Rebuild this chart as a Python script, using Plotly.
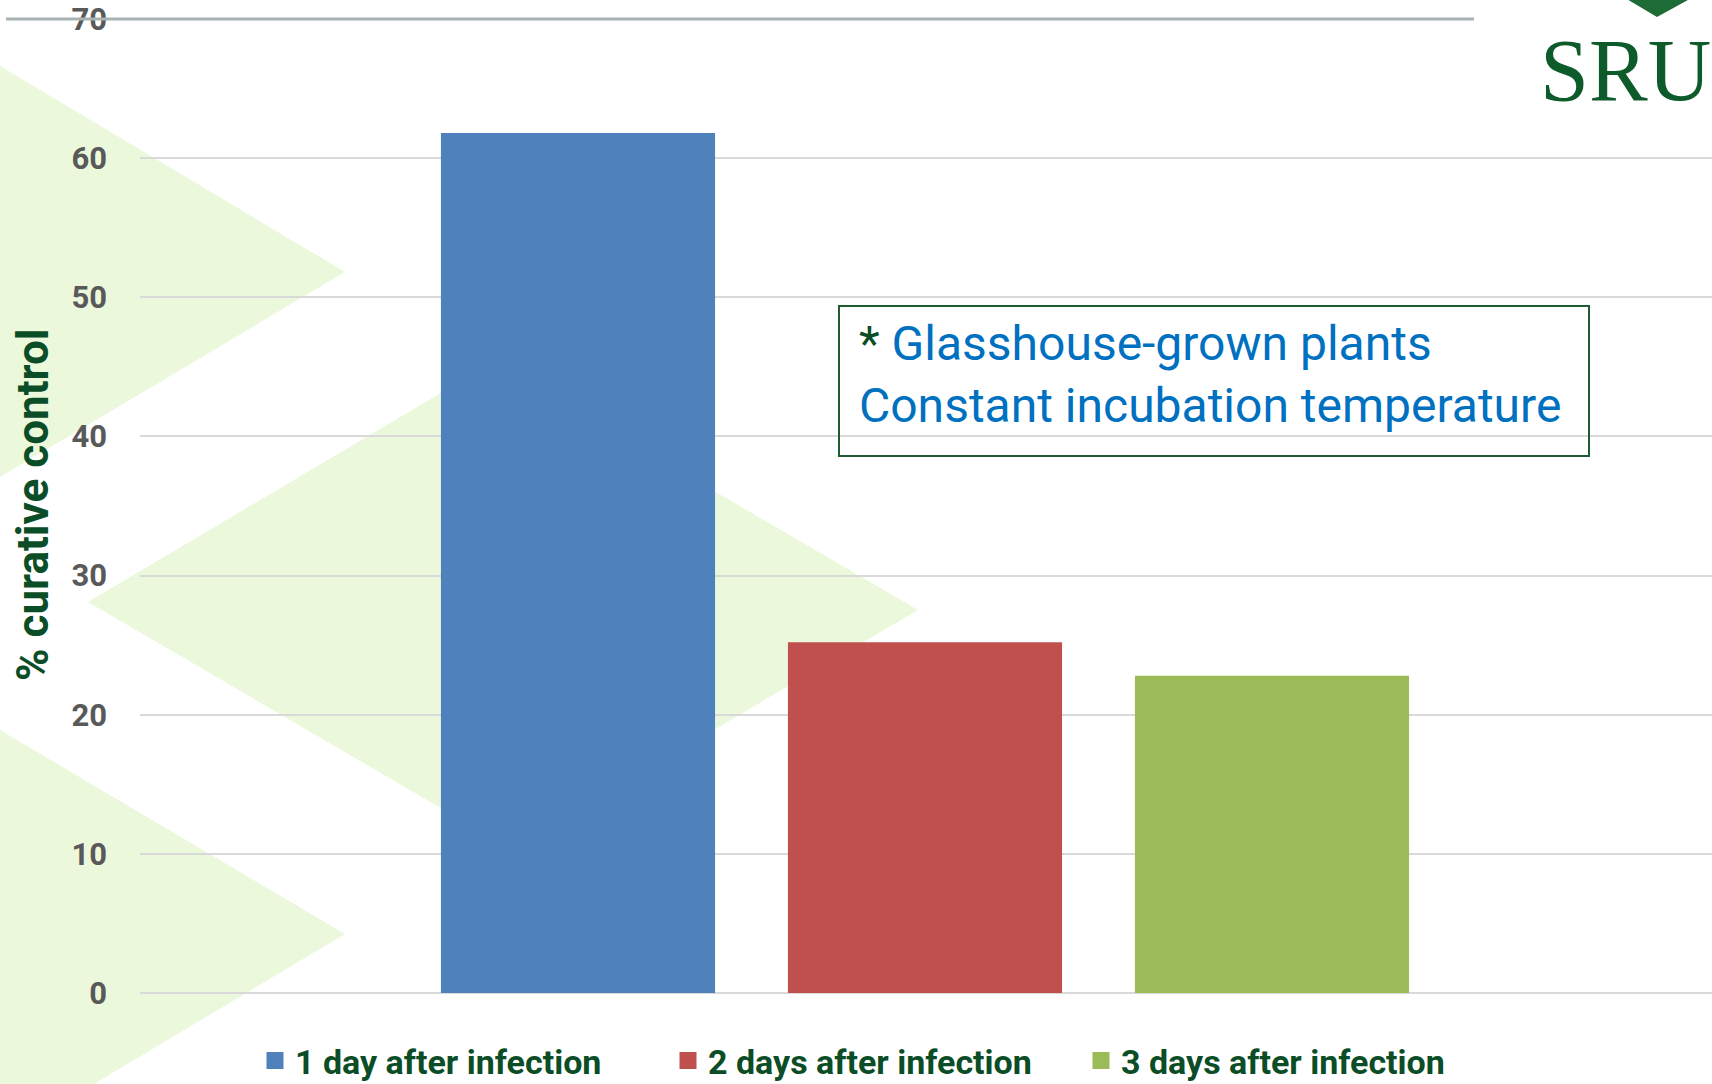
import plotly.graph_objects as go

# ============================ DATA ===============================
series_names = ['1 day after infection', '2 days after infection', '3 days after infection']
curative_control = [61.8, 25.2, 22.8]
bar_colors = ['#4F81BD', '#C0504D', '#9BBB59']
y_ticks = [0, 10, 20, 30, 40, 50, 60, 70]
y_title = '% curative control'
note_star = '*'
note_lines = ['Glasshouse-grown plants', 'Constant incubation temperature']
logo_text = 'SRU'

# ============================ PAGE GEOMETRY ===============================
W, H = 1712, 1084
ML, MR, MT, MB = 140, 0, 19, 91
PW, PH = W - ML - MR, H - MT - MB

DARK_GREEN = '#0B4D26'
PALE_GREEN = '#EBF8DC'


def px(x):
    # page pixel -> paper x
    return (x - ML) / PW


def py(y):
    # page pixel (from top) -> paper y
    return (H - MB - y) / PH


def poly(points):
    return 'M' + ' L'.join('%.5f,%.5f' % (px(a), py(b)) for a, b in points) + ' Z'


# background chevrons of the slide
chevrons = [
    [(0, 66), (345, 272), (0, 477)],
    [(88, 602), (493, 362), (918, 610), (511, 849)],
    [(0, 730), (345, 934), (0, 1140)],
]

# ============================ FIGURE ===============================
fig = go.Figure()

# bars (legend drawn by separate legend-only entries with bigger swatches)
for name, val, col in zip(series_names, curative_control, bar_colors):
    fig.add_trace(go.Bar(
        x=[name], y=[val], name=name, showlegend=False,
        marker=dict(color=col, line=dict(width=0)),
        width=0.79,
    ))

for name, col in zip(series_names, bar_colors):
    fig.add_trace(go.Bar(
        x=[name], y=[None], name=name, showlegend=True,
        marker=dict(color=col, line=dict(color=col, width=5)),
        hoverinfo='skip',
    ))

shapes = []
for pts in chevrons:
    shapes.append(dict(type='path', path=poly(pts), xref='paper', yref='paper',
                       fillcolor=PALE_GREEN, line=dict(width=0), layer='below'))

# slide title underline
shapes.append(dict(type='line', xref='paper', yref='paper',
                   x0=px(6), x1=px(1474), y0=py(19), y1=py(19),
                   line=dict(color='#A8B2B2', width=3)))
# logo diamond tip
shapes.append(dict(type='path', xref='paper', yref='paper',
                   path=poly([(1620, -5), (1697, -5), (1657, 17)]),
                   fillcolor='#1E6B35', line=dict(width=0)))
# note box
shapes.append(dict(type='rect', xref='paper', yref='paper',
                   x0=px(839), x1=px(1589), y0=py(456), y1=py(306),
                   line=dict(color='#1D5C33', width=2), fillcolor='rgba(0,0,0,0)'))

annotations = [
    dict(text=y_title, textangle=-90, xref='paper', yref='paper',
         x=px(33), y=py(505), xanchor='center', yanchor='middle', showarrow=False,
         font=dict(family='Roboto', size=44, color=DARK_GREEN, weight='bold')),
    dict(text="<span style='color:%s'>%s</span> %s<br>%s" % (DARK_GREEN, note_star, note_lines[0], note_lines[1]),
         xref='paper', yref='paper', x=px(857), y=py(374), xanchor='left', yanchor='middle',
         align='left', showarrow=False,
         font=dict(family='Roboto', size=48, color='#0070C0')),
    dict(text=logo_text, xref='paper', yref='paper', x=px(1713), y=py(70),
         xanchor='right', yanchor='middle', showarrow=False,
         font=dict(family='Liberation Serif', size=88, color='#0D5A2A')),
]

fig.update_layout(
    width=W, height=H,
    margin=dict(l=ML, r=MR, t=MT, b=MB, autoexpand=False),
    paper_bgcolor='white',
    plot_bgcolor='rgba(0,0,0,0)',
    barmode='overlay',
    showlegend=True,
    legend=dict(
        orientation='h', x=px(255), y=py(1061), xanchor='left', yanchor='middle',
        font=dict(family='Roboto', size=34, color=DARK_GREEN, weight='bold'),
        entrywidth=368, entrywidthmode='pixels',
        bgcolor='rgba(0,0,0,0)', borderwidth=0,
    ),
    xaxis=dict(
        type='category', categoryorder='array', categoryarray=series_names,
        range=[-(578 - ML) / 347, -(578 - ML) / 347 + PW / 347],
        showticklabels=False, showgrid=False, zeroline=False, showline=False, ticks='',
    ),
    yaxis=dict(
        range=[0, 70], tickvals=y_ticks, ticks='',
        showgrid=True, gridcolor='#D9D9D9', gridwidth=2,
        zeroline=True, zerolinecolor='#D9D9D9', zerolinewidth=2,
        showline=False, ticklabelstandoff=32,
        tickfont=dict(family='Roboto', size=31, color='#595959', weight='bold'),
    ),
    shapes=shapes,
    annotations=annotations,
)

fig.write_html('out.html', config={'displayModeBar': False},
               post_script="document.body.style.margin='0px';")
